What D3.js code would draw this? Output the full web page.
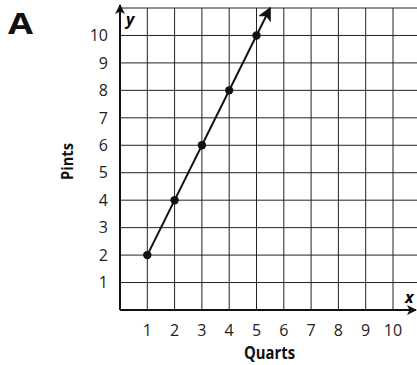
<!DOCTYPE html>
<html><head><meta charset="utf-8">
<script src="https://cdn.jsdelivr.net/npm/d3@7"></script>
<style>body{margin:0;background:#fff}svg{display:block}text{font-family:"Open Sans",sans-serif}</style>
</head><body><svg id="c" width="417" height="365"></svg>
<script>
const xTicks = [1,2,3,4,5,6,7,8,9,10];
const yTicks = [1,2,3,4,5,6,7,8,9,10];
const quarts = [1,2,3,4,5];
const pints = [2,4,6,8,10];
const lineEnd = [5.5, 11];
const xTitle = "Quarts", yTitle = "Pints", panel = "A";

const svg = d3.select("#c");
const x = d3.scaleLinear().domain([0,11]).range([120,420.3]);
const y = d3.scaleLinear().domain([0,11]).range([310,8]);

const defs = svg.append("defs");
defs.append("marker").attr("id","ah").attr("viewBox","0 0 10 10").attr("refX",9).attr("refY",5)
  .attr("markerWidth",5).attr("markerHeight",5).attr("orient","auto").attr("markerUnits","strokeWidth")
  .append("path").attr("d","M0,0 L10,5 L0,10 L2.5,5 Z").attr("fill","#111");
defs.append("marker").attr("id","ah2").attr("viewBox","0 0 10 10").attr("refX",9).attr("refY",5)
  .attr("markerWidth",7).attr("markerHeight",7).attr("orient","auto").attr("markerUnits","strokeWidth")
  .append("path").attr("d","M0,0 L10,5 L0,10 L2.5,5 Z").attr("fill","#111");

const g = svg.append("g");
const gv = d3.range(1,12);
g.selectAll(".vg").data(gv).join("line").attr("x1",d=>x(d)).attr("x2",d=>x(d)).attr("y1",y(0)).attr("y2",y(11))
  .attr("stroke","#222").attr("stroke-width",1);
g.selectAll(".hg").data(gv).join("line").attr("y1",d=>y(d)).attr("y2",d=>y(d)).attr("x1",x(0)).attr("x2",417)
  .attr("stroke","#222").attr("stroke-width",1);
g.append("line").attr("x1",x(0)).attr("x2",x(0)).attr("y1",y(0)).attr("y2",y(11)-3)
  .attr("stroke","#111").attr("stroke-width",2).attr("marker-end","url(#ah)");
g.append("line").attr("x1",x(0)).attr("x2",416).attr("y1",y(0)).attr("y2",y(0))
  .attr("stroke","#111").attr("stroke-width",2).attr("marker-end","url(#ah)");

g.selectAll(".yl").data(yTicks).join("text").attr("x",108).attr("y",d=>y(d)).attr("dy","0.36em")
  .attr("text-anchor","end").attr("font-size",16).attr("fill","#222").text(d=>d);
g.selectAll(".xl").data(xTicks).join("text").attr("x",d=>x(d)).attr("y",330.5).attr("dy","0.36em")
  .attr("text-anchor","middle").attr("font-size",16).attr("fill","#222").text(d=>d);

g.append("text").attr("x",126).attr("y",25).attr("font-size",16).attr("font-weight","bold").attr("font-style","italic").text("y");
g.append("text").attr("x",405).attr("y",303).attr("font-size",16).attr("font-weight","bold").attr("font-style","italic").text("x");

g.append("text").attr("x",269.5).attr("y",359).attr("text-anchor","middle").attr("font-size",17)
  .attr("font-weight","bold").attr("fill","#111").attr("textLength",51).attr("lengthAdjust","spacingAndGlyphs").text(xTitle);
g.append("text").attr("transform",`translate(73,161.5) rotate(-90)`).attr("text-anchor","middle").attr("font-size",16)
  .attr("font-weight","bold").attr("fill","#111").attr("textLength",37).attr("lengthAdjust","spacingAndGlyphs").text(yTitle);
g.append("text").attr("x",8).attr("y",34).attr("font-size",29).attr("font-weight","bold").attr("fill","#111")
  .attr("textLength",25).attr("lengthAdjust","spacingAndGlyphs").text(panel);

const pts = quarts.map((q,i)=>[q,pints[i]]);
g.append("line").attr("x1",x(pts[0][0])).attr("y1",y(pts[0][1])).attr("x2",x(lineEnd[0])).attr("y2",y(lineEnd[1]))
  .attr("stroke","#111").attr("stroke-width",2).attr("marker-end","url(#ah2)");
g.selectAll(".pt").data(pts).join("circle").attr("cx",d=>x(d[0])).attr("cy",d=>y(d[1])).attr("r",4.2).attr("fill","#111");
</script></body></html>
